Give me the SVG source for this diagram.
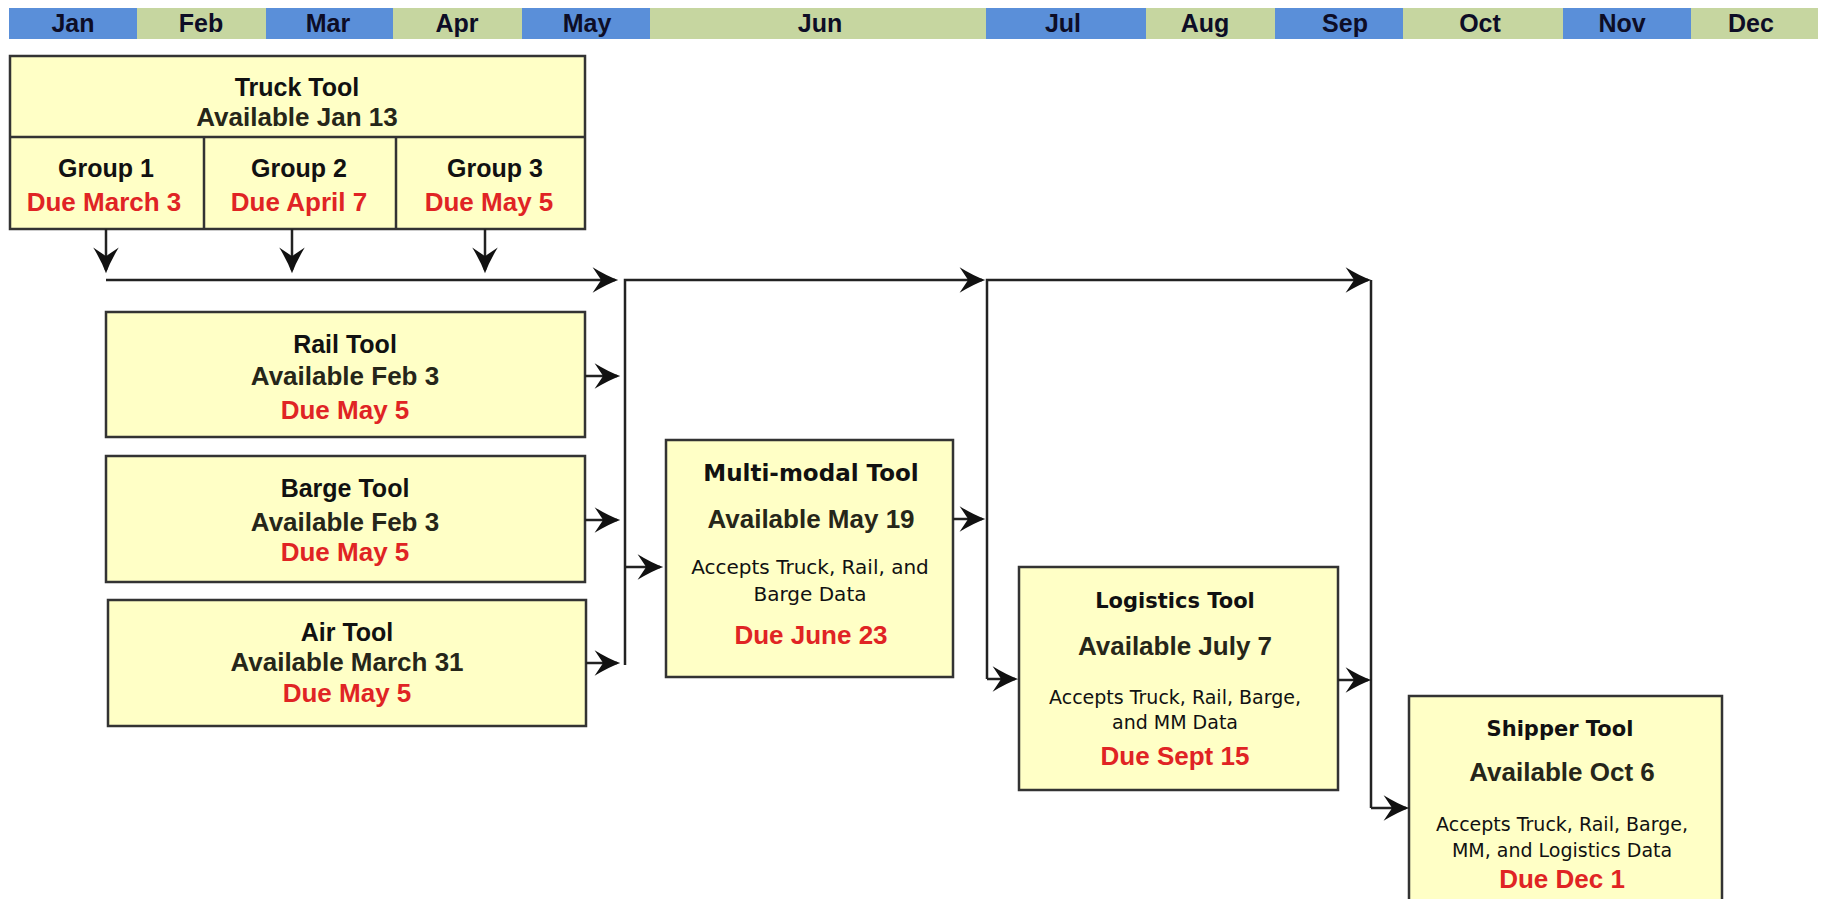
<svg xmlns="http://www.w3.org/2000/svg" width="1825" height="899" viewBox="0 0 1825 899">
<style>
.bl{fill:#5a8fd9}.gr{fill:#c6d6a0}
.mo{font-family:"Liberation Sans",Arial,sans-serif;font-weight:bold;font-size:25px;fill:#0d0d26;text-anchor:middle}
.box{fill:#ffffc6;stroke:#333;stroke-width:2.5}
.t{font-family:"Liberation Sans",Arial,sans-serif;font-weight:bold;font-size:25px;fill:#111;text-anchor:middle}
.a{font-family:"Liberation Sans",Arial,sans-serif;font-weight:bold;font-size:26px;fill:#262619;text-anchor:middle}
.r{font-family:"Liberation Sans",Arial,sans-serif;font-weight:bold;font-size:26px;fill:#e02424;text-anchor:middle}
.h{font-family:"DejaVu Sans",Verdana,sans-serif;font-weight:bold;font-size:21px;fill:#111;text-anchor:middle}
.d{font-family:"DejaVu Sans",Verdana,sans-serif;font-size:19px;fill:#111;text-anchor:middle}
.c{fill:none;stroke:#222;stroke-width:2.5}
.c.ar{marker-end:url(#ah)}
</style>
<defs>
<marker id="ah" markerUnits="userSpaceOnUse" markerWidth="32" markerHeight="32" viewBox="-27 -14 30 28" refX="-3" refY="0" orient="auto">
<path d="M0,0 Q-11,-4 -24,-12 L-16,0 L-24,12 Q-11,4 0,0Z" fill="#111"/>
</marker>
</defs>
<rect width="1825" height="899" fill="#fff"/>
<g id="months">
<rect class="bl" x="9" y="8" width="128" height="31"/>
<rect class="gr" x="137" y="8" width="129" height="31"/>
<rect class="bl" x="266" y="8" width="127" height="31"/>
<rect class="gr" x="393" y="8" width="129" height="31"/>
<rect class="bl" x="522" y="8" width="128" height="31"/>
<rect class="gr" x="650" y="8" width="336" height="31"/>
<rect class="bl" x="986" y="8" width="160" height="31"/>
<rect class="gr" x="1146" y="8" width="129" height="31"/>
<rect class="bl" x="1275" y="8" width="128" height="31"/>
<rect class="gr" x="1403" y="8" width="160" height="31"/>
<rect class="bl" x="1563" y="8" width="128" height="31"/>
<rect class="gr" x="1691" y="8" width="127" height="31"/>
<text class="mo" x="73" y="32">Jan</text>
<text class="mo" x="201" y="32">Feb</text>
<text class="mo" x="328" y="32">Mar</text>
<text class="mo" x="457" y="32">Apr</text>
<text class="mo" x="587" y="32">May</text>
<text class="mo" x="820" y="32">Jun</text>
<text class="mo" x="1063" y="32">Jul</text>
<text class="mo" x="1205" y="32">Aug</text>
<text class="mo" x="1345" y="32">Sep</text>
<text class="mo" x="1480" y="32">Oct</text>
<text class="mo" x="1622" y="32">Nov</text>
<text class="mo" x="1751" y="32">Dec</text>
</g>
<g id="truck">
<rect class="box" x="10" y="56" width="575" height="173"/>
<line x1="10" y1="137" x2="585" y2="137" stroke="#333" stroke-width="2.5"/>
<line x1="204" y1="137" x2="204" y2="229" stroke="#333" stroke-width="2.5"/>
<line x1="396" y1="137" x2="396" y2="229" stroke="#333" stroke-width="2.5"/>
<text class="t" x="297" y="96">Truck Tool</text>
<text class="a" x="297" y="126">Available Jan 13</text>
<text class="t" x="106" y="177">Group 1</text>
<text class="r" x="104" y="211">Due March 3</text>
<text class="t" x="299" y="177">Group 2</text>
<text class="r" x="299" y="211">Due April 7</text>
<text class="t" x="495" y="177">Group 3</text>
<text class="r" x="489" y="211">Due May 5</text>
</g>
<g id="rail">
<rect class="box" x="106" y="312" width="479" height="125"/>
<text class="t" x="345" y="353">Rail Tool</text>
<text class="a" x="345" y="385">Available Feb 3</text>
<text class="r" x="345" y="419">Due May 5</text>
</g>
<g id="barge">
<rect class="box" x="106" y="456" width="479" height="126"/>
<text class="t" x="345" y="497">Barge Tool</text>
<text class="a" x="345" y="531">Available Feb 3</text>
<text class="r" x="345" y="561">Due May 5</text>
</g>
<g id="air">
<rect class="box" x="108" y="600" width="478" height="126"/>
<text class="t" x="347" y="641">Air Tool</text>
<text class="a" x="347" y="671">Available March 31</text>
<text class="r" x="347" y="702">Due May 5</text>
</g>
<g id="multimodal">
<rect class="box" x="666" y="440" width="287" height="237"/>
<text class="h" x="811" y="481" style="font-size:23px">Multi-modal Tool</text>
<text class="a" x="811" y="528">Available May 19</text>
<text class="d" x="810" y="574" style="font-size:20px">Accepts Truck, Rail, and</text>
<text class="d" x="810" y="601" style="font-size:20px">Barge Data</text>
<text class="r" x="811" y="644">Due June 23</text>
</g>
<g id="logistics">
<rect class="box" x="1019" y="567" width="319" height="223"/>
<text class="h" x="1175" y="608">Logistics Tool</text>
<text class="a" x="1175" y="655">Available July 7</text>
<text class="d" x="1175" y="704">Accepts Truck, Rail, Barge,</text>
<text class="d" x="1175" y="729">and MM Data</text>
<text class="r" x="1175" y="765">Due Sept 15</text>
</g>
<g id="shipper">
<rect class="box" x="1409" y="696" width="313" height="215"/>
<text class="h" x="1560" y="736">Shipper Tool</text>
<text class="a" x="1562" y="781">Available Oct 6</text>
<text class="d" x="1562" y="831">Accepts Truck, Rail, Barge,</text>
<text class="d" x="1562" y="857">MM, and Logistics Data</text>
<text class="r" x="1562" y="888">Due Dec 1</text>
</g>
<g id="connectors">
<path class="c ar" d="M106,229 V270"/>
<path class="c ar" d="M292,229 V270"/>
<path class="c ar" d="M485,229 V270"/>
<path class="c ar" d="M106,280 H615"/>
<path class="c ar" d="M625,665 V280 H982"/>
<path class="c ar" d="M987,679 V280 H1368"/>
<path class="c" d="M1371,280 V808"/>
<path class="c ar" d="M585,376 H617"/>
<path class="c ar" d="M585,520 H617"/>
<path class="c ar" d="M586,663 H617"/>
<path class="c ar" d="M625,567 H660"/>
<path class="c ar" d="M953,519 H982"/>
<path class="c ar" d="M987,679 H1015"/>
<path class="c ar" d="M1338,680 H1368"/>
<path class="c ar" d="M1371,808 H1406"/>
</g>
</svg>
